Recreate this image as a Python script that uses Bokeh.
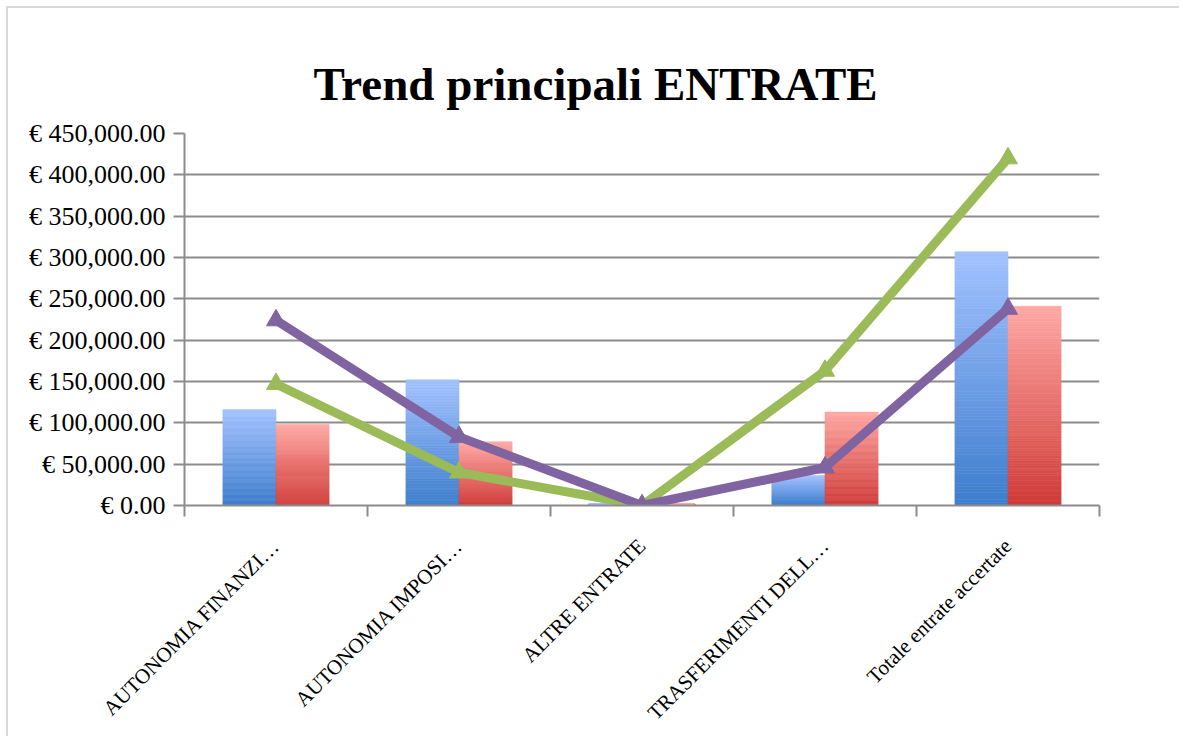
import math
from bokeh.plotting import figure
from bokeh.models import ColumnDataSource, Range1d, LinearAxis, FixedTicker, Title
from bokeh.embed import file_html
from bokeh.resources import INLINE

# ---- data ----
categories = ["AUTONOMIA FINANZI…", "AUTONOMIA IMPOSI…", "ALTRE ENTRATE",
              "TRASFERIMENTI DELL…", "Totale entrate accertate"]
bar_blue = [116000, 152000, 1800, 36000, 307000]
bar_red = [98000, 77000, 1500, 113000, 241000]
line_green = [147000, 40000, 0, 163000, 420000]
line_purple = [224000, 83000, 0, 46000, 238000]
y_ticks = [0, 50000, 100000, 150000, 200000, 250000, 300000, 350000, 400000, 450000]
title_text = "Trend principali ENTRATE"

GREY = "#8c8c8c"
SERIF = "Liberation Serif"

n_cat = len(categories)
centers = [i + 0.5 for i in range(n_cat)]
bounds = list(range(n_cat + 1))


def mix(c1, c2, t):
    a = [int(c1[i:i + 2], 16) for i in (1, 3, 5)]
    b = [int(c2[i:i + 2], 16) for i in (1, 3, 5)]
    return "#%02x%02x%02x" % tuple(round(a[j] + (b[j] - a[j]) * t) for j in range(3))


def gradient_source(values, shift, c_bottom, c_top, n=80):
    xs, bot, top, col = [], [], [], []
    for c, v in zip(centers, values):
        for k in range(n):
            xs.append(c + shift)
            bot.append(v * k / n)
            top.append(v * (k + 1) / n)
            col.append(mix(c_bottom, c_top, (k + 0.5) / n))
    return ColumnDataSource(dict(x=xs, bottom=bot, top=top, color=col))


p = figure(x_range=Range1d(0, n_cat), y_range=Range1d(0, 450000),
           frame_width=915, frame_height=372,
           min_border_left=176, min_border_right=80, min_border_top=125, min_border_bottom=10,
           x_axis_location=None, toolbar_location=None, output_backend="svg",
           styles={"margin-left": "6px", "margin-top": "6px",
                   "border-top": "2px solid #d9d9d9", "border-left": "2px solid #d9d9d9"})
p.outline_line_color = None
p.background_fill_color = "white"
p.border_fill_color = "white"

p.title = Title(text=title_text, align="left", text_font=SERIF, text_font_size="47px",
                text_font_style="bold", text_color="black", offset=129, standoff=47)

# y axis
ya = p.yaxis[0]
ya.ticker = FixedTicker(ticks=y_ticks)
ya.major_label_overrides = {t: "€ {:,.2f}".format(t) for t in y_ticks}
ya.major_label_text_font = SERIF
ya.major_label_text_font_size = "26px"
ya.major_label_text_color = "black"
ya.major_label_standoff = 8
ya.axis_line_color = GREY
ya.axis_line_width = 2
ya.major_tick_line_color = GREY
ya.major_tick_line_width = 2
ya.major_tick_out = 11
ya.major_tick_in = 0
ya.minor_tick_line_color = None

p.ygrid.ticker = FixedTicker(ticks=y_ticks)
p.ygrid.grid_line_color = GREY
p.ygrid.grid_line_width = 2
p.xgrid.grid_line_color = None

# x axis: boundary ticks + category labels
tick_axis = LinearAxis(ticker=FixedTicker(ticks=bounds),
                       major_label_overrides={b: "" for b in bounds},
                       axis_line_color=GREY, axis_line_width=2,
                       major_tick_line_color=GREY, major_tick_line_width=2,
                       major_tick_out=11, major_tick_in=0, minor_tick_line_color=None,
                       major_label_standoff=0)
p.add_layout(tick_axis, "below")
label_axis = LinearAxis(ticker=FixedTicker(ticks=centers),
                        major_label_overrides={c: name for c, name in zip(centers, categories)},
                        axis_line_color=None, major_tick_line_color=None,
                        minor_tick_line_color=None,
                        major_label_orientation=math.pi / 4,
                        major_label_text_font=SERIF, major_label_text_font_size="21px",
                        major_label_text_color="black", major_label_standoff=20)
p.add_layout(label_axis, "below")

# gradient bars
src_b = gradient_source(bar_blue, -0.145, "#3d7dcd", "#a3c2ff")
src_r = gradient_source(bar_red, 0.145, "#cf3a37", "#ffa8a4")
p.vbar(x="x", width=0.29, bottom="bottom", top="top",
       fill_color="color", line_color="color", line_width=0.6, source=src_b)
p.vbar(x="x", width=0.29, bottom="bottom", top="top",
       fill_color="color", line_color="color", line_width=0.6, source=src_r)

# lines
p.line(centers, line_green, line_color="#9bbb59", line_width=9)
p.scatter(centers, line_green, marker="triangle", size=19, fill_color="#9bbb59", line_color="#9bbb59")
p.line(centers, line_purple, line_color="#8064a2", line_width=9)
p.scatter(centers, line_purple, marker="triangle", size=19, fill_color="#8064a2", line_color="#8064a2")

open("out.html", "w").write(file_html(p, INLINE))
